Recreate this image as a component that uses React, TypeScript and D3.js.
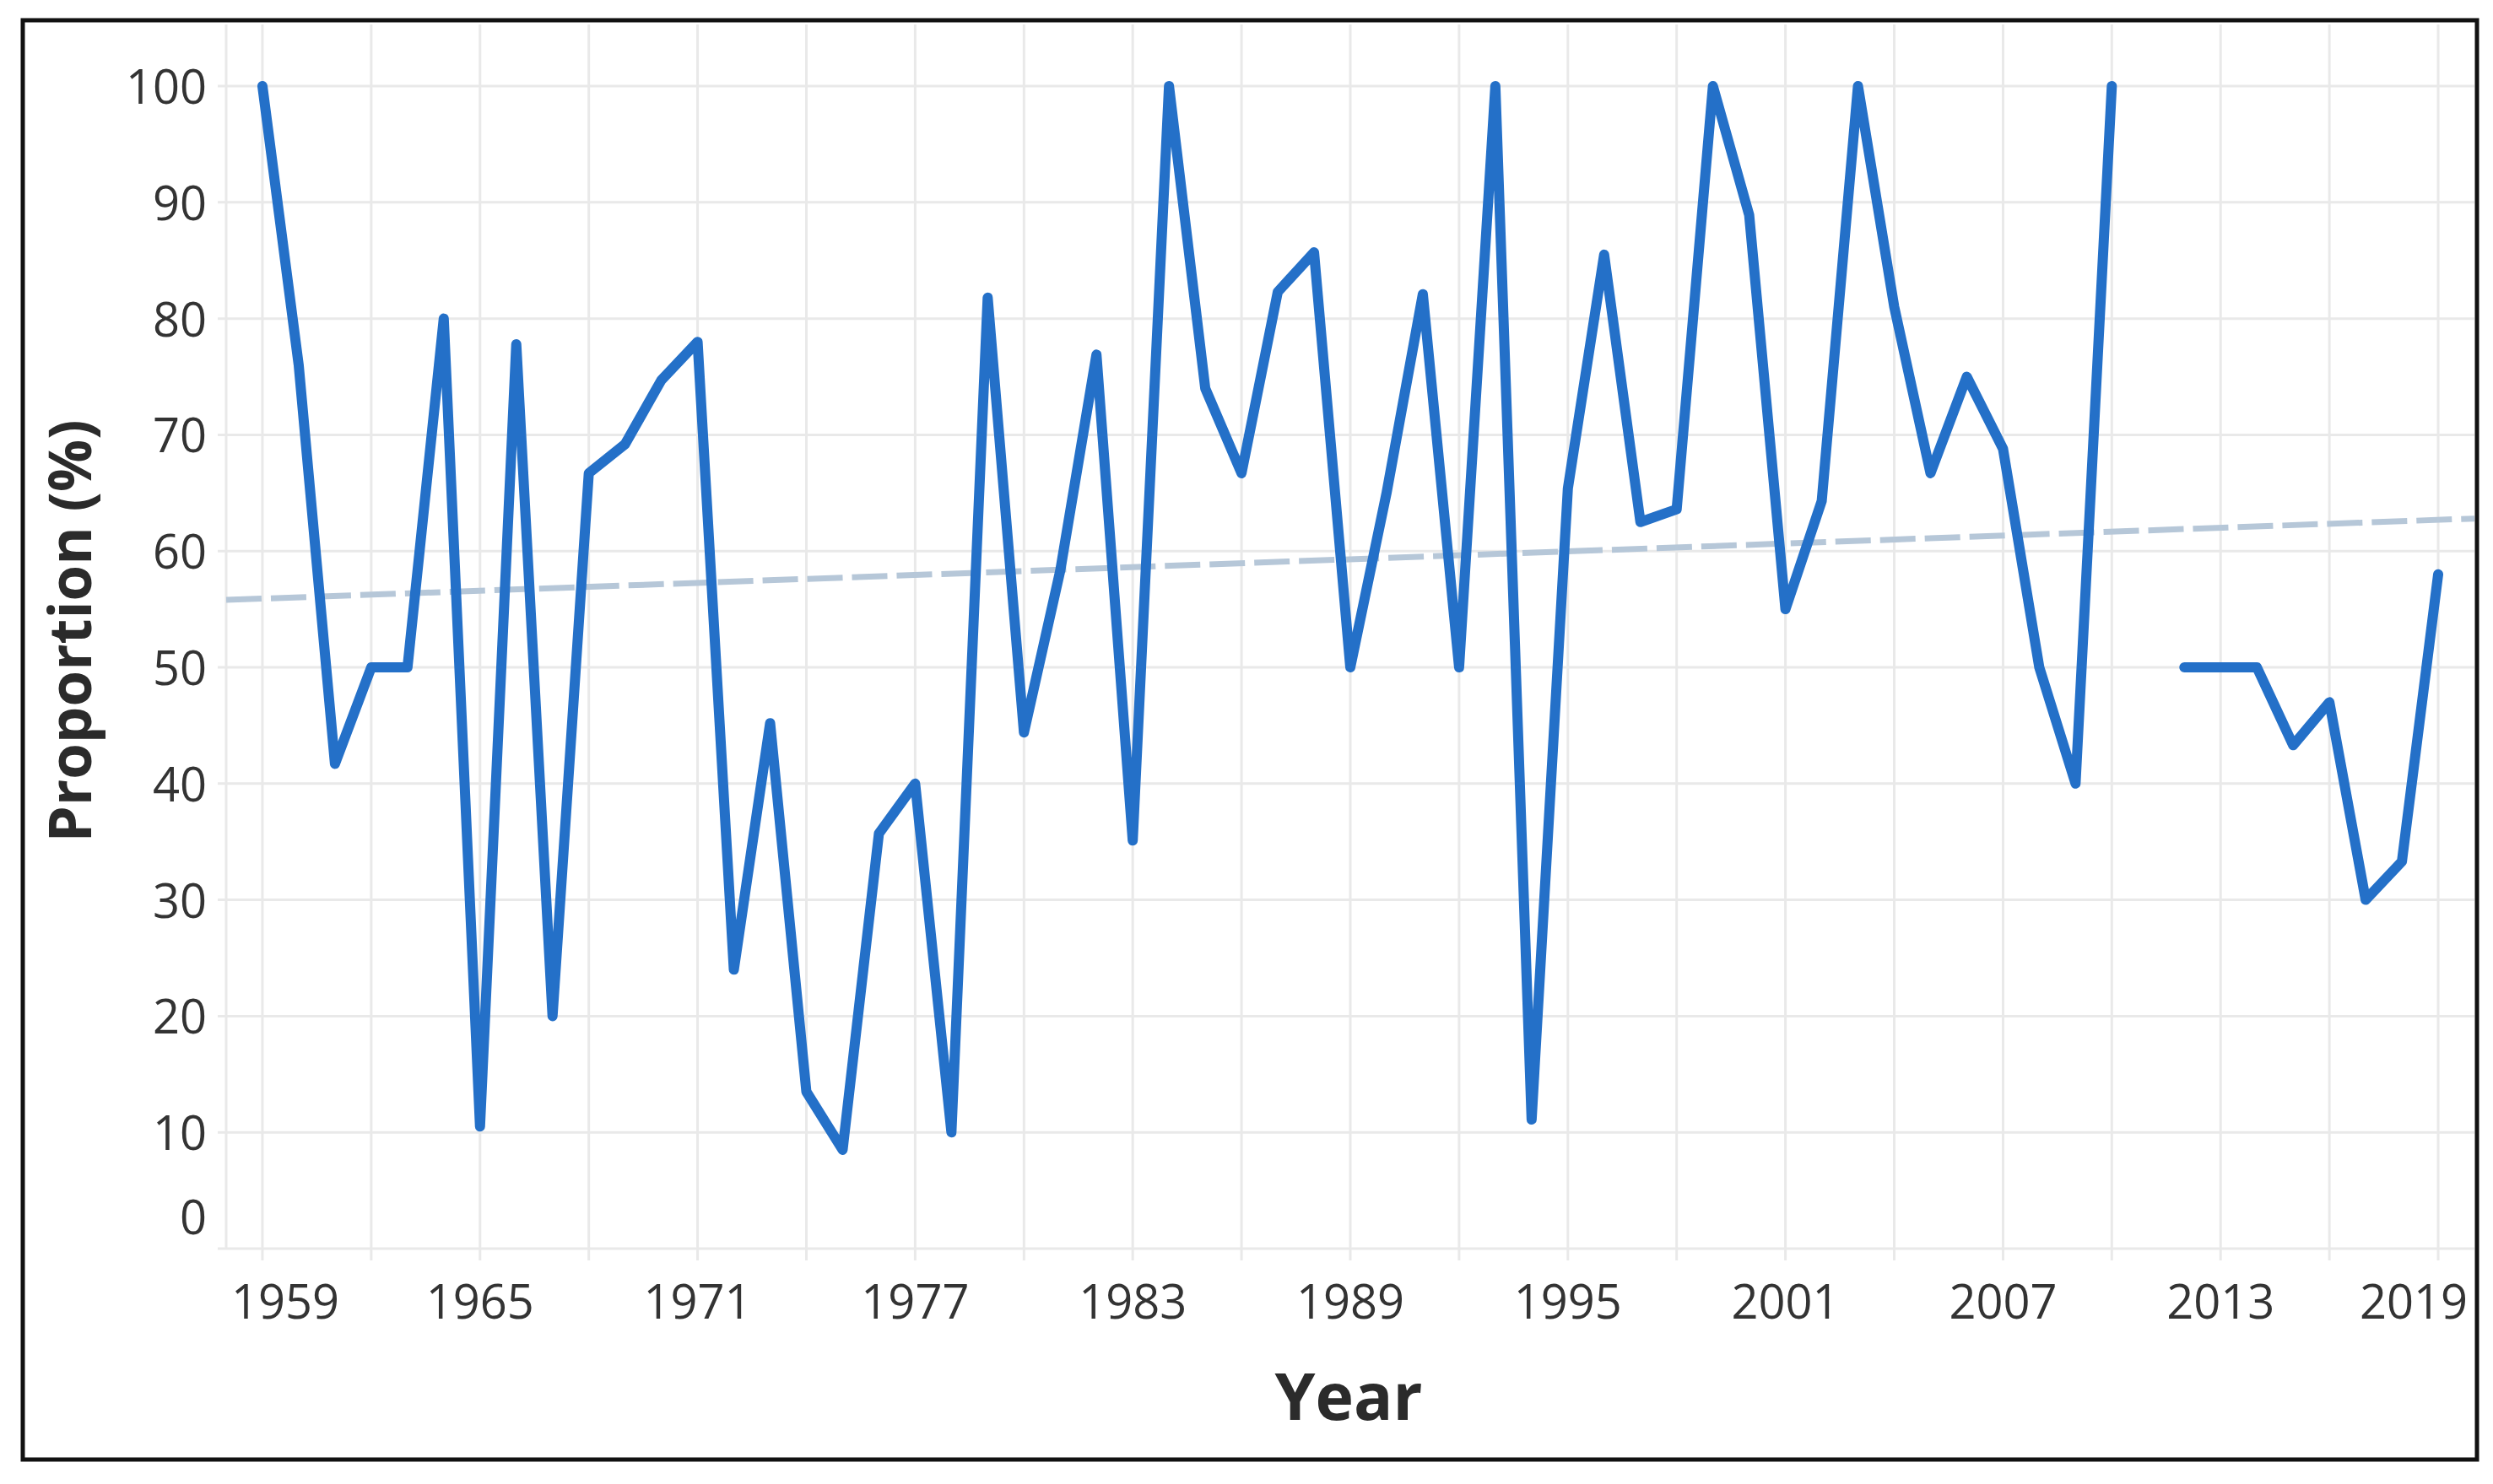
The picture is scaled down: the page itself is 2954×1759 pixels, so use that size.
import React from 'react';
import * as d3 from 'd3';

const years: number[] = [
  1959, 1960, 1961, 1962, 1963, 1964, 1965, 1966, 1967, 1968,
  1969, 1970, 1971, 1972, 1973, 1974, 1975, 1976, 1977, 1978,
  1979, 1980, 1981, 1982, 1983, 1984, 1985, 1986, 1987, 1988,
  1989, 1990, 1991, 1992, 1993, 1994, 1995, 1996, 1997, 1998,
  1999, 2000, 2001, 2002, 2003, 2004, 2005, 2006, 2007, 2008,
  2009, 2010, 2011, 2012, 2013, 2014, 2015, 2016, 2017, 2018, 2019,
];

const proportion: (number | null)[] = [
  100, 76, 41.7, 50, 50, 80, 10.5, 77.8, 20, 66.7,
  69.2, 74.7, 78, 24, 45.2, 13.5, 8.5, 35.7, 40, 10,
  81.8, 44.4, 58.3, 76.9, 35.1, 100, 74, 66.7, 82.3, 85.7,
  50, 65, 82.1, 50, 100, 11.1, 65.4, 85.5, 62.5, 63.6,
  100, 88.9, 55, 64.3, 100, 81, 66.7, 75, 68.8, 50,
  40, 100, null, 50, 50, 50, 43.3, 47, 30, 33.3, 58,
];

const trendYears: number[] = [1958, 2020];
const trendValues: number[] = [55.8, 62.8];

const yTicks: number[] = [0, 10, 20, 30, 40, 50, 60, 70, 80, 90, 100];
const xGridYears: number[] = [
  1959, 1962, 1965, 1968, 1971, 1974, 1977, 1980, 1983, 1986, 1989,
  1992, 1995, 1998, 2001, 2004, 2007, 2010, 2013, 2016, 2019,
];
const xLabelYears: number[] = [1959, 1965, 1971, 1977, 1983, 1989, 1995, 2001, 2007, 2013, 2019];

const W = 2954;
const H = 1759;
const plotLeft = 268;
const plotRight = 2932;
const plotTop = 29;
const plotBottom = 1480;

export default function App() {
  const x = d3.scaleLinear().domain([1958, 2020]).range([plotLeft, plotRight]);
  const y = d3.scaleLinear().domain([0, 105.3]).range([plotBottom, plotTop]);

  const data = years.map((yr, i) => ({ yr, v: proportion[i] }));
  const line = d3
    .line<{ yr: number; v: number | null }>()
    .defined((d) => d.v !== null)
    .x((d) => x(d.yr))
    .y((d) => y(d.v as number));

  const trend = d3
    .line<number>()
    .x((d, i) => x(trendYears[i]))
    .y((d) => y(d));

  const gridColor = '#e9e9e9';
  const textColor = '#333333';
  const tickFont = "'Open Sans', sans-serif";

  return (
    <svg
      width={W}
      height={H}
      viewBox={`0 0 ${W} ${H}`}
      style={{ position: 'absolute', left: 0, top: 0, display: 'block', background: '#ffffff' }}
    >
      <rect x={0} y={0} width={W} height={H} fill="#ffffff" />
      {yTicks.map((t) => (
        <line
          key={'hy' + t}
          x1={plotLeft - 10}
          x2={plotRight}
          y1={y(t)}
          y2={y(t)}
          stroke={gridColor}
          strokeWidth={3}
        />
      ))}
      <line x1={plotLeft} x2={plotLeft} y1={plotTop} y2={plotBottom} stroke={gridColor} strokeWidth={3} />
      {xGridYears.map((yr) => (
        <line
          key={'vx' + yr}
          x1={x(yr)}
          x2={x(yr)}
          y1={plotTop}
          y2={plotBottom + 14}
          stroke={gridColor}
          strokeWidth={3}
        />
      ))}
      {yTicks.map((t) => (
        <text
          key={'yl' + t}
          x={245}
          y={t === 0 ? 1463 : y(t) + 21}
          textAnchor="end"
          fontFamily={tickFont}
          fontSize={56}
          fill={textColor}
        >
          {t}
        </text>
      ))}
      {xLabelYears.map((yr, i) => {
        const first = i === 0;
        const last = i === xLabelYears.length - 1;
        return (
          <text
            key={'xl' + yr}
            x={first ? plotLeft + 6 : last ? plotRight - 8 : x(yr)}
            y={1563}
            textAnchor={first ? 'start' : last ? 'end' : 'middle'}
            fontFamily={tickFont}
            fontSize={56}
            fill={textColor}
          >
            {yr}
          </text>
        );
      })}
      <path
        d={trend(trendValues) || ''}
        fill="none"
        stroke="#b6c7d8"
        strokeWidth={7}
        strokeDasharray="42 11"
      />
      <path
        d={line(data) || ''}
        fill="none"
        stroke="#2470c8"
        strokeWidth={12}
        strokeLinejoin="round"
        strokeLinecap="round"
      />
      <text
        x={1598}
        y={1683}
        textAnchor="middle"
        fontFamily={tickFont}
        fontWeight={700}
        fontSize={77}
        fill="#2b2b2b"
      >
        Year
      </text>
      <text
        transform={`translate(108, 748) rotate(-90)`}
        textAnchor="middle"
        fontFamily={tickFont}
        fontWeight={700}
        fontSize={69}
        fill="#2b2b2b"
      >
        Proportion (%)
      </text>
      <rect x={27} y={24} width={2908} height={1706} fill="none" stroke="#111111" strokeWidth={5} />
    </svg>
  );
}
